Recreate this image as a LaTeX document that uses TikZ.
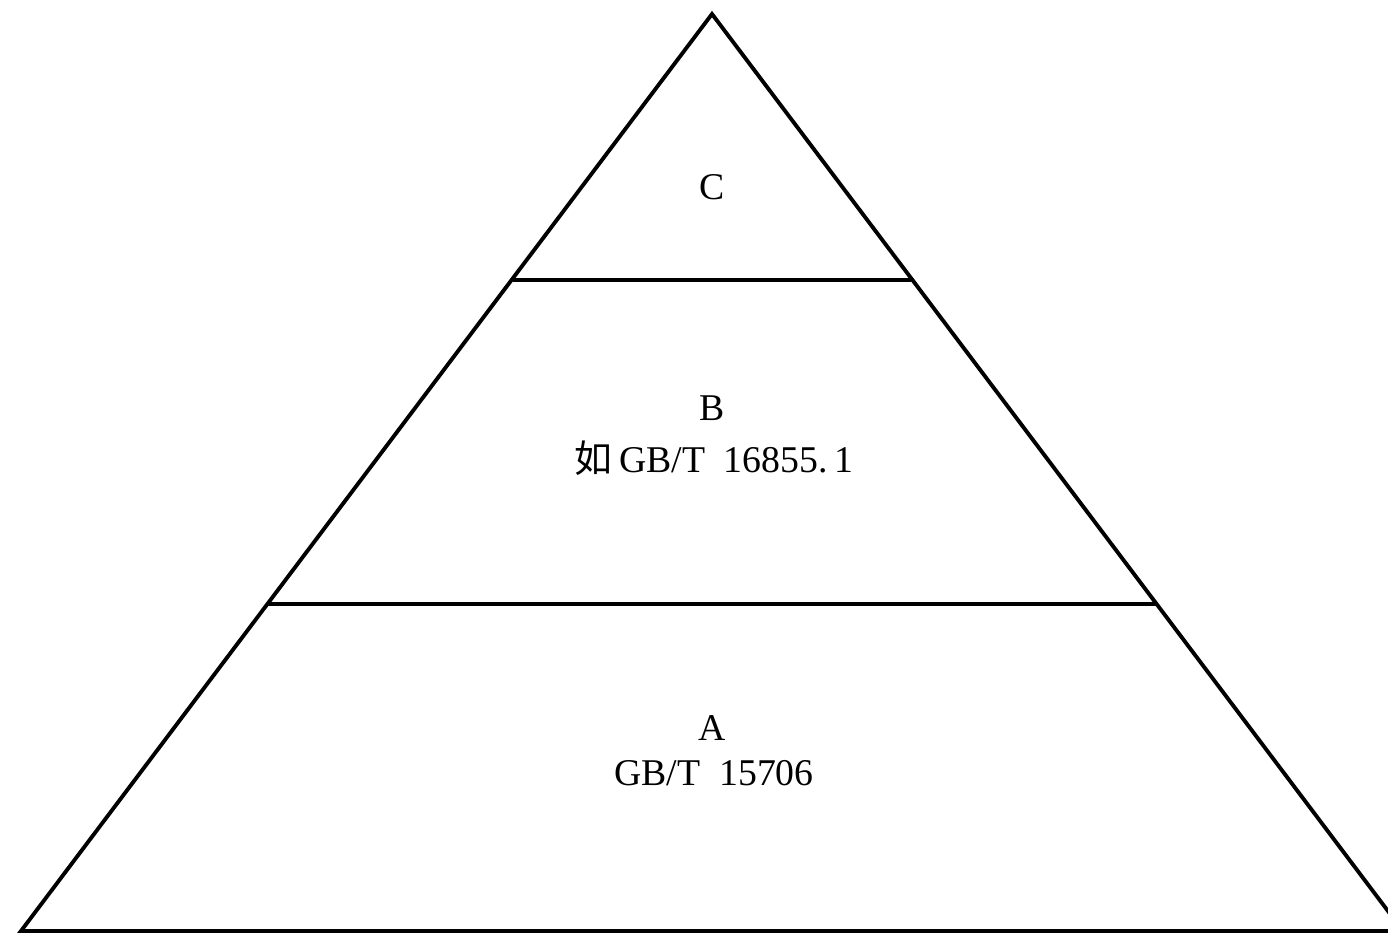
\documentclass[tikz,border=0pt]{standalone}
\usepackage{fontspec}
\setmainfont{Liberation Serif}
\newfontfamily\cjk{Noto Sans CJK SC}
\begin{document}
\begin{tikzpicture}[x=0.02cm,y=-0.02cm,
  edge/.style={line width=2.2pt,line join=miter},
  lbl/.style={font=\fontsize{21.5}{26}\selectfont,align=center,inner sep=0pt}]
\useasboundingbox (0,0) rectangle (1388,935);
\clip (0,0) rectangle (1388,935);
\coordinate (top) at (712,14);
\coordinate (bl) at (21,931);
\coordinate (br) at (1403,931);
\draw[edge] (bl) -- (top) -- (br) -- cycle;
\draw[edge] (512.6,280) -- (911.4,280);
\draw[edge] (267.4,604) -- (1156.6,604);
\node[lbl] (c) at (712,187) {C};
\node[lbl] (b) at (712,408) {B};
\node[lbl] (b2) at (714,458) {{\cjk 如}\,GB/T\ \ 16855.\,1};
\node[lbl] (a) at (712,728) {A};
\node[lbl] (a2) at (714,773) {GB/T\ \ 15706};
\end{tikzpicture}
\end{document}
